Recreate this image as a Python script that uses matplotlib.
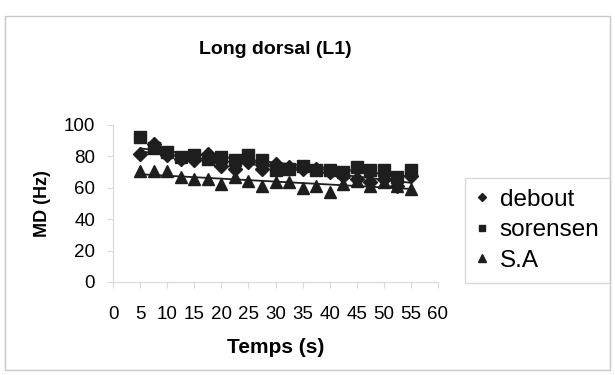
import numpy as np
import matplotlib.pyplot as plt
from matplotlib.patches import Rectangle

plt.rcParams['font.family'] = ['Liberation Sans', 'DejaVu Sans']

# Temps de mesure (s)
temps = [5, 7.5, 10, 12.5, 15, 17.5, 20, 22.5, 25, 27.5, 30,
         32.5, 35, 37.5, 40, 42.5, 45, 47.5, 50, 52.5, 55]
# Fréquence médiane (Hz) pour chaque position
debout = [81.7, 88, 80.6, 78.5, 77.4, 81.5, 74, 72, 76.3, 72, 75.3,
          73, 72, 72, 70, 67.7, 65.6, 63.4, 65.6, 61.3, 67.7]
sorensen = [92.5, 85, 82.8, 79.6, 80.6, 78.5, 79.6, 77.4, 80.6, 77.4, 71,
            72, 74, 71, 71, 70, 73, 71, 71, 66.7, 71]
sa = [70.5, 70.5, 70.5, 67, 65.5, 65.5, 62.4, 67, 64.5, 61.3, 63.4,
      63.4, 59.8, 61.3, 57.5, 62.4, 64.5, 61.3, 63.4, 61.3, 59]

fig = plt.figure(figsize=(6.15, 3.75), dpi=100)
fig.patch.set_facecolor('white')
# cadre du graphique
fig.add_artist(Rectangle((0.008, 0.013), 0.984, 0.945, transform=fig.transFigure,
                         fill=False, edgecolor='#c8c8c8', linewidth=1))

ax = fig.add_axes([0.184, 0.248, 0.528, 0.419])

series = [
    (debout, 'D', 7, 'debout'),
    (sorensen, 's', 8, 'sorensen'),
    (sa, '^', 8.5, 'S.A'),
]
t = np.array(temps)
for values, marker, size, label in series:
    ax.plot(temps, values, linestyle='none', marker=marker, markersize=size,
            color='#1e1e1e', label=label)
    # courbe de tendance linéaire
    a, b = np.polyfit(t, values, 1)
    ax.plot(t, a * t + b, color='#1e1e1e', linewidth=1.3)

ax.set_xlim(0, 60)
ax.set_ylim(0, 100)
ax.set_xticks(range(0, 61, 5))
ax.set_yticks(range(0, 101, 20))
ax.tick_params(axis='x', labelsize=13.5, length=4, color='#d8d8d8', pad=13)
ax.tick_params(axis='y', labelsize=13.5, length=4, color='#d8d8d8', pad=9)
for side in ['top', 'right']:
    ax.spines[side].set_visible(False)
for side in ['left', 'bottom']:
    ax.spines[side].set_color('#d8d8d8')

ax.set_title('Long dorsal (L1)', fontsize=14, fontweight='bold', pad=51)
ax.set_xlabel('Temps (s)', fontsize=15, fontweight='bold', labelpad=11)
ax.set_ylabel('MD (Hz)', fontsize=13, fontweight='bold', labelpad=9)

leg = ax.legend(loc='center left', bbox_to_anchor=(1.085, 0.33), fontsize=17.5,
                frameon=True, fancybox=False, edgecolor='#d0d0d0',
                markerscale=0.6, handlelength=0.5, handletextpad=0.45,
                labelspacing=0.35, borderpad=0.45, borderaxespad=0)
leg.get_frame().set_linewidth(1)

fig.savefig('out.png', dpi=100)
